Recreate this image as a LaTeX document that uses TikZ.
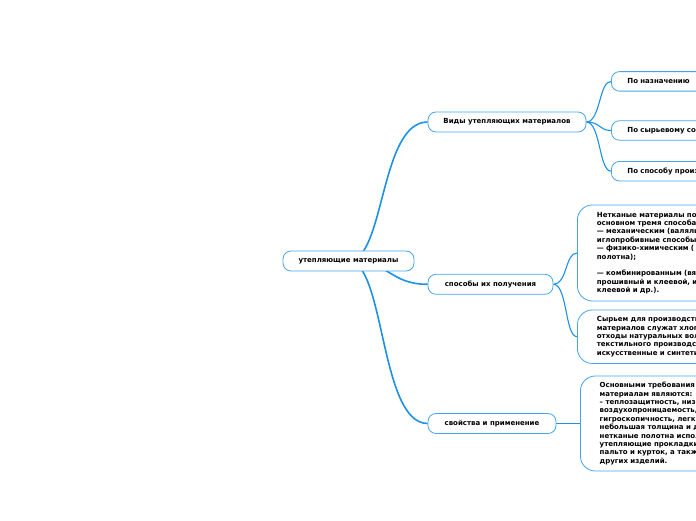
\documentclass[tikz,border=0pt]{standalone}
\usepackage{fontspec}
\setmainfont{DejaVu Sans}
\usetikzlibrary{backgrounds}
\definecolor{linkblue}{RGB}{28,145,230}
\definecolor{boxblue}{RGB}{70,165,238}

\begin{document}
\begin{tikzpicture}[
  x=1pt, y=1pt,
  every node/.style={font=\fontsize{7}{8.4}\selectfont\bfseries, text=black},
  topic/.style={draw=boxblue, fill=white, line width=0.8pt, rounded corners=8pt,
    minimum height=20pt, inner sep=0pt},
  leaf/.style={topic, anchor=west, minimum height=19.5pt, text width=160pt,
    align=left, inner xsep=16pt},
  note/.style={draw=boxblue, fill=white, line width=0.8pt, rounded corners=15pt,
    anchor=west, text width=200pt, align=left, inner xsep=19.5pt, inner ysep=0pt},
  link/.style={draw=linkblue, line width=1.6pt},
  twig/.style={draw=linkblue, line width=1.1pt},
]
  \useasboundingbox (0,0) rectangle (696,520);
  \clip (0,0) rectangle (696,520);

  % Central topic
  \node[topic, minimum width=131pt] (root) at (348.5,259) {утепляющие материалы};

  % Main branches
  \node[topic, minimum width=158pt] (vidy) at (507,398) {Виды утепляющих материалов};
  \node[topic, minimum width=125pt] (sposob) at (490.5,235.7) {способы их получения};
  \node[topic, minimum width=128pt] (svojstva) at (492,96.5) {свойства и применение};

  % Kinds
  \node[leaf] (naznach) at (611,438.6) {По назначению};
  \node[leaf] (syrje) at (611,389.5) {По сырьевому со};
  \node[leaf] (proizv) at (611,348.8) {По способу произ};

  % Notes
  \node[note, minimum height=96pt] (sposobtxt) at (577,267) {Нетканые материалы по\\
    основном тремя способа\\
    — механическим (валяль\\
    иглопробивные способы\\
    — физико-химическим (\\
    полотна);\\[8.4pt]
    — комбинированным (вя\\
    прошивный и клеевой, и\\
    клеевой и др.).};
  \node[note, minimum height=53.5pt] (syrjetxt) at (577,183.3) {Сырьем для производств\\
    материалов служат хлоп\\
    отходы натуральных вол\\
    текстильного производст\\
    искусственные и синтети};
  \node[note, minimum height=95pt, inner xsep=19.3pt] (svojstvatxt) at (580,96.5) {Основными требования\\
    материалам являются:\\
    – теплозащитность, низ\\
    воздухопроницаемость,\\
    гигроскопичность, легк\\
    небольшая толщина и д\\
    нетканые полотна испол\\
    утепляющие прокладки\\
    пальто и курток, а такж\\
    других изделий.};

  % Connectors
  \begin{scope}[on background layer]
    \draw[link] (root.center) .. controls +(36.5,0) and +(-48,0) .. (vidy.west);
    \draw[link] (root.center) .. controls +(41.5,0) and +(-38,0) .. (sposob.west);
    \draw[link] (root.center) .. controls +(36.5,0) and +(-48,0) .. (svojstva.west);

    \draw[twig] (vidy.east) .. controls +(14,0) and +(-12,0) .. (naznach.west);
    \draw[twig] (vidy.east) .. controls +(14,0) and +(-12,0) .. (syrje.west);
    \draw[twig] (vidy.east) .. controls +(14,0) and +(-12,0) .. (proizv.west);

    \draw[twig] (sposob.east) .. controls +(14,0) and +(-12,0) .. (sposobtxt.west);
    \draw[twig] (sposob.east) .. controls +(14,0) and +(-12,0) .. (syrjetxt.west);

    \draw[twig] (svojstva.east) -- (svojstvatxt.west);
  \end{scope}
\end{tikzpicture}
\end{document}
